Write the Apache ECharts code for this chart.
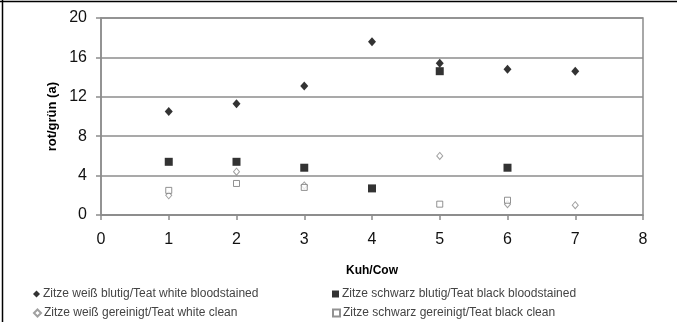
<!DOCTYPE html>
<html><head><meta charset="utf-8">
<script src="https://cdn.jsdelivr.net/npm/echarts@6/dist/echarts.min.js"></script>
<style>html,body{margin:0;padding:0;background:#fff}#c{width:677px;height:322px}</style>
</head><body><div id="c"></div>
<script>
var seriesNames = ['Zitze weiß blutig/Teat white bloodstained','Zitze schwarz blutig/Teat black bloodstained','Zitze weiß gereinigt/Teat white clean','Zitze schwarz gereinigt/Teat black clean'];
var whiteBlood = [[1,10.5],[2,11.3],[3,13.1],[4,17.6],[5,15.4],[6,14.8],[7,14.6]];
var blackBlood = [[1,5.4],[2,5.4],[3,4.8],[4,2.7],[5,14.6],[6,4.8]];
var whiteClean = [[1,2.0],[2,4.4],[3,3.0],[5,6.0],[6,1.1],[7,1.0]];
var blackClean = [[1,2.5],[2,3.2],[3,2.8],[5,1.1],[6,1.5]];
var xTicks = [0,1,2,3,4,5,6,7,8];
var yTicks = [0,4,8,12,16,20];

var font = 'Liberation Sans, Arial, sans-serif';
var gridCol = '#8c8c8c';
function leg(name, left, top){
  return {data:[name],left:left,top:top,itemWidth:7,itemHeight:7,padding:0,
    textStyle:{fontFamily:font,fontSize:12,color:'#444',padding:[0,0,0,-2]}};
}
var chart = echarts.init(document.getElementById('c'), null, {renderer:'canvas'});
chart.setOption({
  animation:false,
  backgroundColor:'#fff',
  grid:{left:101,right:34,top:18,bottom:107,show:true,borderColor:gridCol,borderWidth:1.5,backgroundColor:'transparent'},
  xAxis:{type:'value',min:xTicks[0],max:xTicks[xTicks.length-1],interval:1,
    name:'Kuh/Cow',nameLocation:'middle',nameGap:50,
    nameTextStyle:{fontFamily:font,fontWeight:'bold',fontSize:12,color:'#000'},
    axisLine:{show:true,lineStyle:{color:gridCol,width:1.5}},
    axisTick:{show:true,length:5,lineStyle:{color:gridCol,width:1.5}},
    axisLabel:{fontFamily:font,fontSize:16,color:'#111',margin:17},
    splitLine:{show:false}},
  yAxis:{type:'value',min:yTicks[0],max:yTicks[yTicks.length-1],interval:4,
    axisLine:{show:true,lineStyle:{color:gridCol,width:1.5}},
    axisTick:{show:true,length:5,lineStyle:{color:gridCol,width:1.5}},
    axisLabel:{fontFamily:font,fontSize:16,color:'#111',margin:14},
    splitLine:{show:true,lineStyle:{color:gridCol,width:1.5}}},
  legend:[
    leg(seriesNames[0],33,288),
    leg(seriesNames[2],33,307),
    leg(seriesNames[1],332,288),
    leg(seriesNames[3],332,307)
  ],
  graphic:[
    {type:'text',left:46,top:82,rotation:Math.PI/2,style:{text:'rot/grün (a)',font:'bold 13px '+font,fill:'#000'}},
    {type:'line',shape:{x1:0,y1:1.5,x2:677,y2:1.5},style:{stroke:'#000',lineWidth:1.5}},
    {type:'line',shape:{x1:2.5,y1:0,x2:2.5,y2:322},style:{stroke:'#000',lineWidth:1.5}}
  ],
  series:[
    {name:seriesNames[0],type:'scatter',data:whiteBlood,symbol:'diamond',symbolSize:[8,9],itemStyle:{color:'#000'},z:2},
    {name:seriesNames[1],type:'scatter',data:blackBlood,symbol:'rect',symbolSize:8,itemStyle:{color:'#000'},z:3},
    {name:seriesNames[2],type:'scatter',data:whiteClean,symbol:'diamond',symbolSize:[6,7],itemStyle:{color:'#fff',borderColor:'#888',borderWidth:1},z:4},
    {name:seriesNames[3],type:'scatter',data:blackClean,symbol:'rect',symbolSize:6,itemStyle:{color:'#fff',borderColor:'#777',borderWidth:1},z:5}
  ]
});
</script></body></html>
